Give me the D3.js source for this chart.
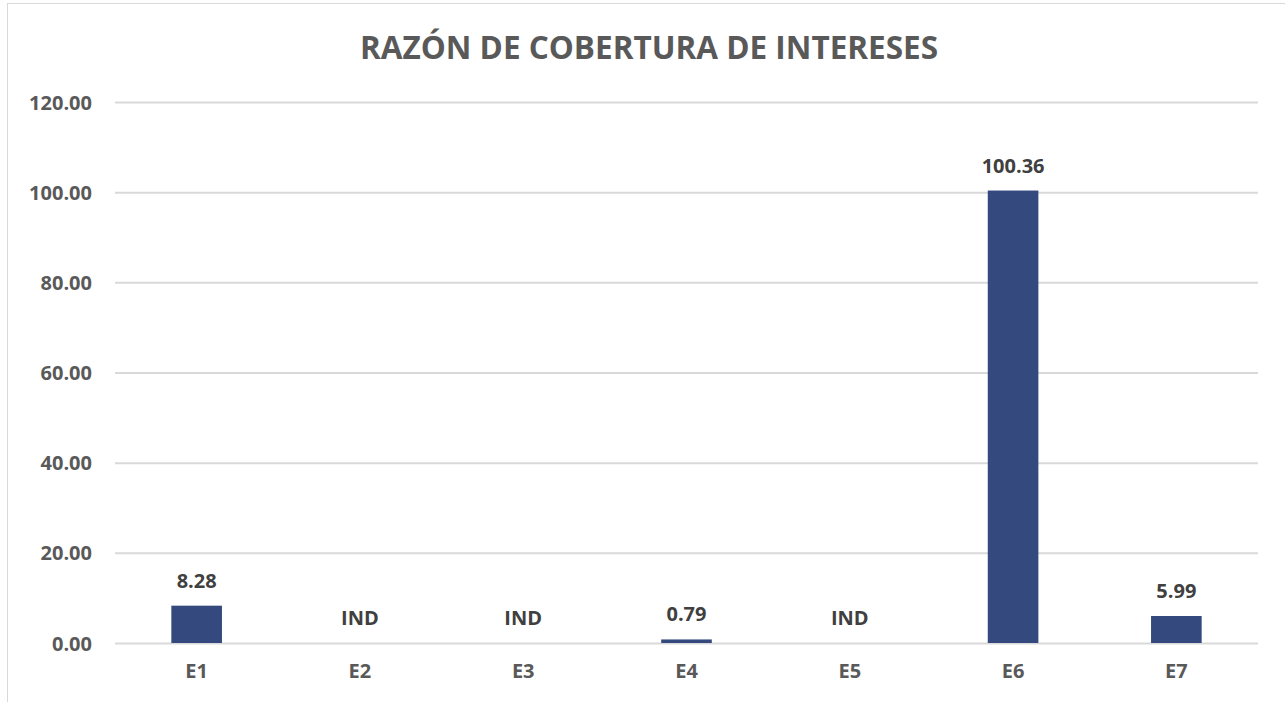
<!DOCTYPE html>
<html><head><meta charset="utf-8">
<script src="https://cdn.jsdelivr.net/npm/d3@7"></script>
<style>body{margin:0;background:#fff;}svg{display:block;font-family:"Open Sans","Liberation Sans",sans-serif;}</style>
</head><body>
<svg id="c" width="1285" height="702"></svg>
<script>
const categories = ["E1","E2","E3","E4","E5","E6","E7"];
const values = [8.28, null, null, 0.79, null, 100.36, 5.99];
const missingLabel = "IND";
const yTicks = [0,20,40,60,80,100,120];
const title = "RAZÓN DE COBERTURA DE INTERESES";

const FONT = '"Open Sans","Liberation Sans",sans-serif';
const svg = d3.select("#c");
const W = 1285, H = 702;
const m = {left:115, right:27, top:102, bottom:59};

svg.append("rect").attr("x",7.5).attr("y",3.5).attr("width",1300).attr("height",720)
  .attr("fill","#fff").attr("stroke","#d9d9d9").attr("stroke-width",1);

const x = d3.scaleBand().domain(categories).range([m.left, W-m.right]).paddingInner(0.69).paddingOuter(0.345);
const y = d3.scaleLinear().domain([0,120]).range([H-m.bottom, m.top]);

svg.append("text").attr("x",649).attr("y",59).attr("text-anchor","middle")
  .attr("font-size",31.5).attr("font-weight","bold").attr("fill","#595959").text(title);

const gy = svg.append("g").attr("transform",`translate(${m.left},0)`)
  .call(d3.axisLeft(y).tickValues(yTicks).tickFormat(d3.format(".2f")).tickSize(-(W-m.left-m.right)).tickPadding(23));
gy.attr("font-family",FONT).attr("font-size",null);
gy.select(".domain").remove();
gy.selectAll(".tick line").attr("stroke","#d9d9d9").attr("stroke-width",2);
gy.selectAll(".tick text").attr("font-size",20).attr("font-weight","bold").attr("fill","#595959").attr("dy","0.35em");

const gx = svg.append("g").attr("transform",`translate(0,${H-m.bottom})`)
  .call(d3.axisBottom(x).tickSize(0).tickPadding(21));
gx.attr("font-family",FONT).attr("font-size",null);
gx.select(".domain").remove();
gx.selectAll(".tick text").attr("font-size",20).attr("font-weight","bold").attr("fill","#595959");

const data = categories.map((c,i)=>({c, v: values[i]}));
svg.append("g").selectAll("rect").data(data.filter(d=>d.v!=null)).join("rect")
  .attr("x",d=>x(d.c)).attr("width",x.bandwidth())
  .attr("y",d=>y(d.v)).attr("height",d=>y(0)-y(d.v)).attr("fill","#344a7e");

svg.append("g").selectAll("text").data(data).join("text")
  .attr("x",d=>x(d.c)+x.bandwidth()/2)
  .attr("y",d=>y(d.v==null?0:d.v)-18)
  .attr("text-anchor","middle").attr("font-size",20).attr("font-weight","bold").attr("fill","#404040")
  .text(d=>d.v==null?missingLabel:d3.format(".2f")(d.v));
</script>
</body></html>
